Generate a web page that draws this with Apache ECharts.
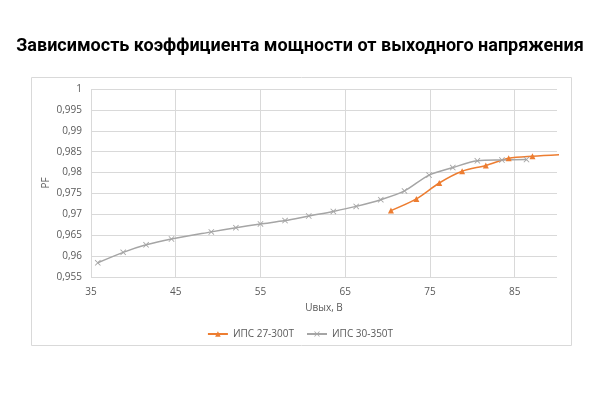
<!DOCTYPE html>
<html><head><meta charset="utf-8">
<script src="https://cdn.jsdelivr.net/npm/echarts@6/dist/echarts.min.js"></script>
<style>html,body{margin:0;padding:0;background:#fff}#c{width:600px;height:400px}</style>
</head><body><div id="c"></div>
<script>
const titleText = 'Зависимость коэффициента мощности от выходного напряжения';
const xName = 'Uвых, В';
const yName = 'PF';
const seriesNames = ['ИПС 27-300Т', 'ИПС 30-350Т'];
const ips27x = [70.4, 73.4, 76.1, 78.8, 81.6, 84.3, 87.1, 92.8];
const ips27y = [0.9709, 0.9737, 0.9775, 0.9803, 0.9817, 0.9834, 0.9839, 0.9845];
const ips30x = [35.8, 38.8, 41.5, 44.5, 49.2, 52.1, 55.0, 57.9, 60.7, 63.6, 66.3, 69.2, 72.0, 74.9, 77.7, 80.6, 83.5, 86.4];
const ips30y = [0.9584, 0.9609, 0.9627, 0.9641, 0.9658, 0.9668, 0.9677, 0.9685, 0.9696, 0.9707, 0.9719, 0.9735, 0.9756, 0.9794, 0.9812, 0.9828, 0.9830, 0.9831];
const xMin = 35, xMax = 90, xStep = 10;
const yMin = 0.955, yMax = 1, yStep = 0.005;

const pair = (xs, ys) => xs.map((x, i) => [x, ys[i]]);
const xSym = 'path://M0,1L1,0L5,4L9,0L10,1L6,5L10,9L9,10L5,6L1,10L0,9L4,5Z';
const lbl = {color:'#595959', fontSize:10, fontFamily:'Open Sans'};

const chart = echarts.init(document.getElementById('c'));
chart.setOption({
  animation:false,
  title:{text:titleText, left:'center', top:32, textStyle:{fontFamily:'Roboto', fontWeight:'bold', fontSize:18, color:'#000'}},
  graphic:[{type:'rect', shape:{x:31.5, y:77.5, width:540, height:268}, style:{fill:'none', stroke:'#D9D9D9', lineWidth:1}, z:-1}],
  grid:{left:91, right:43, top:89, bottom:123},
  legend:{bottom:56, left:'center', itemWidth:20, itemHeight:7, itemGap:12,
    textStyle:{color:'#595959', fontSize:10, fontFamily:'Open Sans'},
    data:seriesNames},
  xAxis:{type:'value', min:xMin, max:xMax, interval:xStep,
    name:xName, nameLocation:'middle', nameGap:26, nameTextStyle:lbl, nameMoveOverlap:false,
    axisLine:{show:false}, axisTick:{show:false},
    axisLabel:Object.assign({margin:10, showMaxLabel:false}, lbl),
    splitLine:{showMaxLine:false, lineStyle:{color:'#D9D9D9'}}},
  yAxis:{type:'value', min:yMin, max:yMax, interval:yStep,
    name:yName, nameLocation:'middle', nameGap:40, nameRotate:90, nameTextStyle:lbl, nameMoveOverlap:false,
    axisLine:{show:false}, axisTick:{show:false},
    axisLabel:Object.assign({margin:9, formatter:v => String(+v.toFixed(3)).replace('.', ',')}, lbl),
    splitLine:{lineStyle:{color:'#D9D9D9'}}},
  series:[
    {name:seriesNames[0], type:'line', data:pair(ips27x, ips27y), smooth:0.3, clip:true,
     symbol:'triangle', symbolSize:6, showAllSymbol:true,
     lineStyle:{color:'#ED7D31', width:1.5}, itemStyle:{color:'#ED7D31'}},
    {name:seriesNames[1], type:'line', data:pair(ips30x, ips30y), smooth:0.3,
     symbol:xSym, symbolSize:6, showAllSymbol:true,
     lineStyle:{color:'#A5A5A5', width:1.5}, itemStyle:{color:'#A5A5A5'}}
  ]
});
</script></body></html>
